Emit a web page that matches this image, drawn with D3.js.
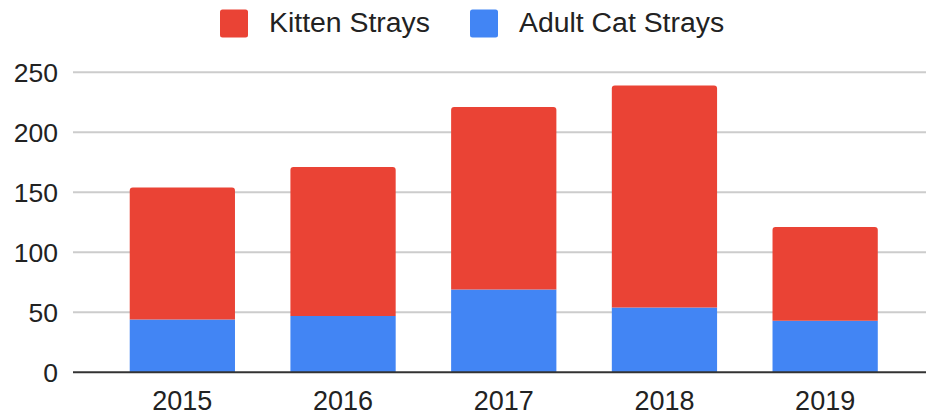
<!DOCTYPE html>
<html lang="en">
<head>
  <meta charset="UTF-8">
  <title>Kitten and Adult Cat Strays</title>
  <script src="https://d3js.org/d3.v7.min.js"></script>
  <style>
    body { margin: 0; background: #fff; }
    text { font-family: Arial, "Liberation Sans", sans-serif; fill: #222; }
  </style>
</head>
<body>
<div id="chart"></div>
<script>
  // data
  const years = ["2015", "2016", "2017", "2018", "2019"];
  const adultStrays = [44, 47, 69, 54, 43];
  const kittenStrays = [110, 124, 152, 185, 78];
  const yTicks = [0, 50, 100, 150, 200, 250];

  const seriesNames = ["Kitten Strays", "Adult Cat Strays"];
  const seriesColors = ["#ea4335", "#4285f4"];

  const width = 926, height = 415;
  const gridLeft = 73, gridRight = 926;

  const svg = d3.select("#chart").append("svg")
    .attr("width", width)
    .attr("height", height);

  const x = d3.scaleBand()
    .domain(years)
    .range([102, 905.5])
    .paddingInner(0.345)
    .paddingOuter(0.1725);

  const y = d3.scaleLinear()
    .domain([0, 250])
    .range([372.3, 72.3]);

  // gridlines
  svg.append("g")
    .selectAll("line")
    .data(yTicks.filter(d => d > 0))
    .enter().append("line")
    .attr("x1", gridLeft).attr("x2", gridRight)
    .attr("y1", d => y(d)).attr("y2", d => y(d))
    .attr("stroke", "#cccccc")
    .attr("stroke-width", 2);

  // y tick labels
  svg.append("g")
    .selectAll("text")
    .data(yTicks)
    .enter().append("text")
    .attr("x", 58)
    .attr("y", d => y(d))
    .attr("dy", "0.36em")
    .attr("text-anchor", "end")
    .style("font-size", "26.5px")
    .text(d => d);

  const rows = years.map((yr, i) => ({ year: yr, adult: adultStrays[i], kitten: kittenStrays[i] }));

  // adult (bottom) segment
  svg.append("g")
    .selectAll("rect")
    .data(rows)
    .enter().append("rect")
    .attr("x", d => x(d.year))
    .attr("width", x.bandwidth())
    .attr("y", d => y(d.adult))
    .attr("height", d => y(0) - y(d.adult))
    .attr("fill", seriesColors[1]);

  // kitten (top) segment with rounded top corners
  const r = 3;
  svg.append("g")
    .selectAll("path")
    .data(rows)
    .enter().append("path")
    .attr("d", d => {
      const x0 = x(d.year), x1 = x0 + x.bandwidth();
      const yt = y(d.adult + d.kitten), yb = y(d.adult);
      return `M${x0},${yb}V${yt + r}Q${x0},${yt} ${x0 + r},${yt}H${x1 - r}Q${x1},${yt} ${x1},${yt + r}V${yb}Z`;
    })
    .attr("fill", seriesColors[0]);

  // baseline
  svg.append("line")
    .attr("x1", gridLeft).attr("x2", gridRight)
    .attr("y1", y(0)).attr("y2", y(0))
    .attr("stroke", "#333")
    .attr("stroke-width", 2);

  // x axis labels
  svg.append("g")
    .selectAll("text")
    .data(years)
    .enter().append("text")
    .attr("x", d => x(d) + x.bandwidth() / 2)
    .attr("y", 409.5)
    .attr("text-anchor", "middle")
    .style("font-size", "27px")
    .text(d => d);

  // legend
  const legendX = [220, 470];
  const legend = svg.append("g")
    .selectAll("g")
    .data(seriesNames)
    .enter().append("g")
    .attr("transform", (d, i) => `translate(${legendX[i]},9.5)`);

  legend.append("rect")
    .attr("width", 28).attr("height", 28)
    .attr("rx", 2.5)
    .attr("fill", (d, i) => seriesColors[i]);

  legend.append("text")
    .attr("x", 49)
    .attr("y", 22)
    .style("font-size", "28.4px")
    .text(d => d);
</script>
</body>
</html>
